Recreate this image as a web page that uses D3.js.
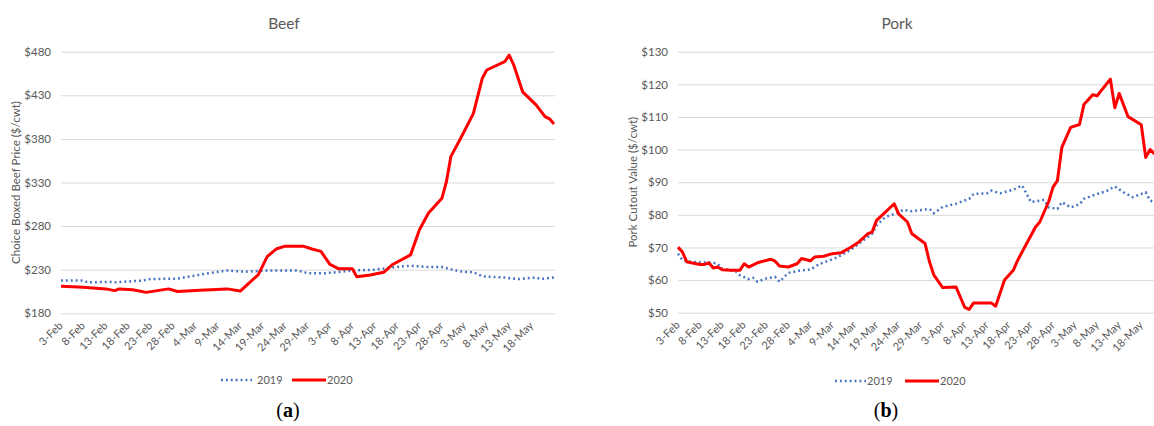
<!DOCTYPE html>
<html><head><meta charset="utf-8">
<script src="https://cdn.jsdelivr.net/npm/d3@7"></script>
<style>
html,body{margin:0;padding:0;background:#fff;}
svg{display:block;}
</style></head>
<body>
<svg id="c" width="1154" height="426"></svg>
<script>
// ---------------- DATA ----------------
const startDate = "2020-02-03";
const xTickLabels = ["3-Feb","8-Feb","13-Feb","18-Feb","23-Feb","28-Feb","4-Mar","9-Mar","14-Mar","19-Mar","24-Mar","29-Mar","3-Apr","8-Apr","13-Apr","18-Apr","23-Apr","28-Apr","3-May","8-May","13-May","18-May"];
const seriesNames = ["2019","2020"];

// Beef (days since 3-Feb, $/cwt)
const beefDays2019 = [0,5,6,11,12,18,20,26,28,33,37,41,46,53,55,59,65,70,73,78,82,85,89,92,94,99,102,106,107,110];
const beef2019     = [217.5,217.5,215.5,216,215.5,217.5,219.3,219.7,221.6,226,229,227.7,229,229,226,226,229,230,232,234.6,233,233,228,227,222.4,221,219.3,221,219.3,221];
const beefDays2020 = [0,5,10,12,13,16,19,24,26,31,37,40,42,44,46,48,50,54,56,58,60,62,65,66,69,72,74,78,80,82,85,86,87,89,92,94,95,99,100,101,103,106,108,109,110];
const beef2020     = [211,210,208,206,208,207,204,208,205,206.5,208,205.5,215,224,245,253.7,257,257,253.7,251,236,231,231,222,224,227,236,247,276,295,312,331,360,379,409,449.5,459,468.5,476,465,434,419,405.5,403,397];

// Pork (days since 3-Feb, $/cwt)
const porkDays2019 = [0,1,3,8,9,10,13,14,16,17,18,20,22,23,25,28,30,32,36,39,42,44,45,47,50,51,53,57,58,60,63,66,67,70,71,73,76,78,80,83,84,86,87,89,91,92,95,97,99,101,103,106,107,108];
const pork2019     = [68.1,66.1,65.6,65.3,65,63.5,62.8,61.5,60.3,60.7,59.5,60.5,61,59.5,62.2,63,63.2,64.9,66.9,69.1,72.2,74.2,76.8,79.3,80.8,81.5,81.1,81.8,80.5,82.4,83.4,84.9,86.4,86.6,87.4,86.6,87.7,89,83.9,84.6,82.3,81.8,83.9,82.3,83.2,84.9,86.4,87.2,88.7,86.9,85.4,86.9,84.4,83.9];
const porkDays2020 = [0,1,2,3,5,6,7,8,9,10,12,14,15,16,18,21,22,23,25,27,28,30,31,33,35,37,39,41,43,44,45,47,49,50,52,53,56,57,58,60,63,65,66,67,71,72,74,76,77,81,82,84,85,86,87,89,91,92,94,95,98,99,100,102,105,106,107,108];
const pork2020     = [70.1,68.6,65.6,65.3,64.8,64.8,65.3,63.7,64,63.2,63,63,65,64,65.3,66.4,65.8,64.3,64,65,66.6,65.9,67.1,67.3,68.1,68.4,69.9,71.7,74.2,74.7,78.3,80.8,83.4,80.3,77.8,74.2,71.2,65.6,61.5,57.7,57.9,51.6,51,53,53,52,60,63,66.1,76.2,77.8,84,88.5,90.5,100.7,106.8,107.7,113.8,116.8,116.5,121.6,112.8,117.2,110.1,107.6,97.6,100,98.7];

const beefYTicks = [180,230,280,330,380,430,480];
const porkYTicks = [50,60,70,80,90,100,110,120,130];

// ---------------- DRAW ----------------
const svg = d3.select("#c");
svg.append("rect").attr("width",1154).attr("height",426).attr("fill","#fff");
const parse = d3.timeParse("%d-%b-%Y");
const t0 = d3.timeParse("%Y-%m-%d")(startDate);
const tickDays = xTickLabels.map(l => d3.timeDay.count(t0, parse(l + "-2020")));
const labelOf = new Map(tickDays.map((d,i)=>[d, xTickLabels[i]]));

const grey = "#595959";
const blue = "#4472C4";
const red = "#FF0000";
const sans = "Lato, 'Open Sans', sans-serif";
const serif = "'Liberation Serif', 'DejaVu Serif', serif";
const dots = "1.9 3";

function chart(o){
  const g = svg.append("g").style("font-family", sans);
  const x = d3.scaleLinear().domain(o.xDomain).range(o.xRange);
  const y = d3.scaleLinear().domain(o.yDomain).range([o.yBottom, o.yTop]);

  // gridlines + y labels
  const ya = g.append("g").attr("transform",`translate(${o.xRange[0]},0)`)
    .call(d3.axisLeft(y).tickValues(o.yTicks).tickFormat(d=>"$"+d)
      .tickSize(-(o.gridEnd - o.xRange[0])).tickPadding(10));
  ya.select(".domain").remove();
  ya.selectAll(".tick line").attr("stroke","#D9D9D9").attr("stroke-width",1);
  ya.selectAll(".tick text").attr("fill",grey).style("font-size","11.5px").style("font-family",sans);

  // x labels
  const xa = g.append("g").attr("transform",`translate(0,${o.yBottom})`)
    .call(d3.axisBottom(x).tickValues(tickDays).tickFormat(d=>labelOf.get(d)).tickSize(0));
  xa.select(".domain").remove();
  xa.selectAll(".tick text")
    .attr("fill",grey).style("font-size","11px").style("font-family",sans)
    .attr("text-anchor","end").attr("dy",0).attr("y",0)
    .attr("transform","translate(2,13) rotate(-45)");

  // lines
  const line = d3.line().x(d=>x(d[0])).y(d=>y(d[1]));
  g.append("path").datum(d3.zip(o.days2019,o.v2019)).attr("d",line)
    .attr("fill","none").attr("stroke",blue).attr("stroke-width",2.5)
    .attr("stroke-dasharray",dots);
  g.append("path").datum(d3.zip(o.days2020,o.v2020)).attr("d",line)
    .attr("fill","none").attr("stroke",red).attr("stroke-width",3)
    .attr("stroke-linejoin","round");

  // title
  g.append("text").attr("x",o.titleX).attr("y",29).attr("text-anchor","middle")
    .attr("fill",grey).style("font-size","15.5px").text(o.title);
  // y axis title
  g.append("text").attr("transform",`translate(${o.yTitleX},${(o.yTop+o.yBottom)/2}) rotate(-90)`)
    .attr("text-anchor","middle").attr("fill",grey).style("font-size","11.5px").text(o.yTitle);

  // legend
  const L = o.legend;
  g.append("line").attr("x1",L[0]).attr("x2",L[0]+31).attr("y1",L[4]).attr("y2",L[4])
    .attr("stroke",blue).attr("stroke-width",2.5).attr("stroke-dasharray",dots);
  g.append("text").attr("x",L[1]).attr("y",L[4]+4).attr("fill",grey).style("font-size","11px").text(seriesNames[0]);
  g.append("line").attr("x1",L[2]).attr("x2",L[2]+34).attr("y1",L[4]).attr("y2",L[4])
    .attr("stroke",red).attr("stroke-width",3.2);
  g.append("text").attr("x",L[3]).attr("y",L[4]+4).attr("fill",grey).style("font-size","11px").text(seriesNames[1]);

  // caption
  const cap = g.append("text").attr("x",o.capX).attr("y",417).attr("text-anchor","middle")
    .style("font-family",serif).style("font-size","20px").attr("fill","#000");
  cap.append("tspan").text("(");
  cap.append("tspan").style("font-weight","bold").text(o.cap);
  cap.append("tspan").text(")");
}

chart({
  title:"Beef", titleX:284, yTitle:"Choice Boxed Beef Price ($/cwt)", yTitleX:20,
  xDomain:[0,110], xRange:[61,554], gridEnd:555,
  yDomain:[180,480], yTop:51.7, yBottom:313.3, yTicks:beefYTicks,
  days2019:beefDays2019, v2019:beef2019, days2020:beefDays2020, v2020:beef2020,
  legend:[221,257,292,327,380], capX:288, cap:"a"
});
chart({
  title:"Pork", titleX:897, yTitle:"Pork Cutout Value ($/cwt)", yTitleX:637,
  xDomain:[0,108], xRange:[678,1154.5], gridEnd:1160,
  yDomain:[50,130], yTop:51.7, yBottom:312.7, yTicks:porkYTicks,
  days2019:porkDays2019, v2019:pork2019, days2020:porkDays2020, v2020:pork2020,
  legend:[835,867,905,940,381], capX:886, cap:"b"
});
</script>
</body></html>
